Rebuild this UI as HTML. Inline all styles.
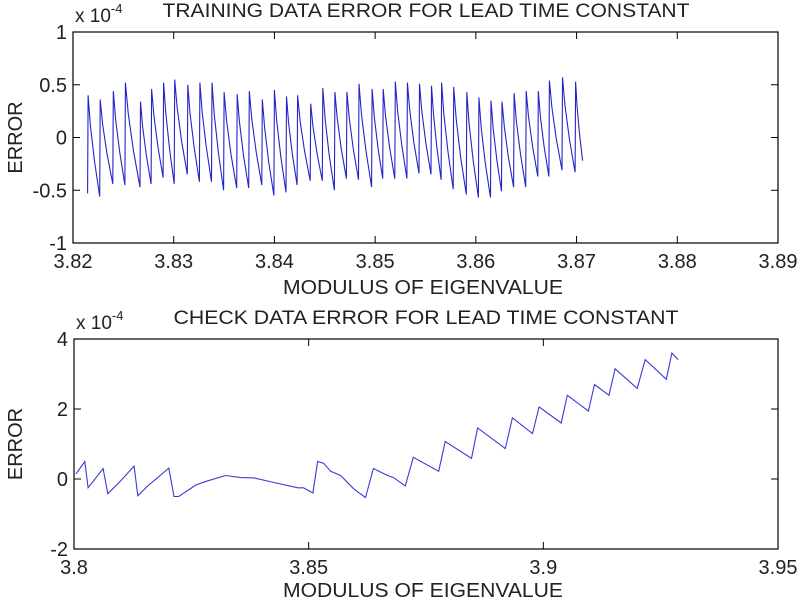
<!DOCTYPE html>
<html><head><meta charset="utf-8"><style>
html,body{margin:0;padding:0;background:#fff;}
svg{display:block;font-family:"Liberation Sans",Arial,sans-serif;}
</style></head><body>
<svg id="chart" width="800" height="600" viewBox="0 0 800 600" xmlns="http://www.w3.org/2000/svg">
<rect width="800" height="600" fill="#fff"/>
<g id="top"></g>
<g id="bot"></g>
</svg>
<script>
// Top chart data (units of 1e-4)
const topPeakX = [3.8215,3.8227,3.8240,3.8252,3.8267,3.8278,3.8290,3.8301,3.8314,3.8326,3.8338,3.8350,3.8363,3.8375,3.8388,3.8400,3.8412,3.8423,3.8436,3.8448,3.8460,3.8472,3.8484,3.8497,3.8508,3.8520,3.8532,3.8544,3.8556,3.8566,3.8578,3.8591,3.8603,3.8615,3.8626,3.8638,3.8650,3.8662,3.8673,3.8686,3.8699];
const topPeakY = [0.40,0.36,0.44,0.52,0.34,0.46,0.52,0.55,0.50,0.52,0.52,0.43,0.41,0.44,0.36,0.45,0.39,0.40,0.32,0.47,0.43,0.43,0.51,0.46,0.46,0.53,0.52,0.51,0.49,0.52,0.48,0.43,0.38,0.35,0.34,0.42,0.44,0.44,0.54,0.57,0.53];
const topTroughY = [-0.53,-0.56,-0.44,-0.45,-0.47,-0.44,-0.38,-0.44,-0.35,-0.42,-0.42,-0.50,-0.48,-0.48,-0.45,-0.55,-0.52,-0.45,-0.41,-0.41,-0.50,-0.39,-0.40,-0.47,-0.39,-0.39,-0.39,-0.34,-0.35,-0.40,-0.49,-0.54,-0.57,-0.57,-0.51,-0.47,-0.47,-0.37,-0.37,-0.31,-0.33];
const topEndX = 3.8706, topEndY = -0.22;
const topXTicks = [3.82,3.83,3.84,3.85,3.86,3.87,3.88,3.89];
const topYTicks = [-1,-0.5,0,0.5,1];
// Bottom chart data
const botX = [3.8004,3.8023,3.8030,3.8062,3.8072,3.8096,3.8128,3.8136,3.8157,3.8179,3.8202,3.8213,3.8223,3.8260,3.8285,3.8323,3.8355,3.8383,3.8426,3.8477,3.8489,3.8509,3.8519,3.8532,3.8547,3.8568,3.8596,3.8621,3.8638,3.8668,3.8681,3.8706,3.8723,3.8777,3.8791,3.8847,3.8860,3.8919,3.8934,3.8977,3.8991,3.9038,3.9051,3.9096,3.9109,3.9140,3.9153,3.9200,3.9217,3.9262,3.9274,3.9287];
const botY = [0.14,0.5,-0.25,0.3,-0.42,-0.1,0.37,-0.48,-0.2,0.05,0.31,-0.5,-0.5,-0.17,-0.05,0.1,0.04,0.03,-0.1,-0.25,-0.25,-0.4,0.5,0.45,0.22,0.1,-0.28,-0.53,0.3,0.1,0.04,-0.2,0.62,0.22,1.07,0.59,1.46,0.87,1.75,1.3,2.06,1.6,2.39,1.94,2.7,2.39,3.15,2.59,3.41,2.85,3.6,3.41];
const botXTicks = [3.8,3.85,3.9,3.95];
const botXLabels = ["3.8","3.85","3.9","3.95"];
const botYTicks = [-2,0,2,4];

const NS="http://www.w3.org/2000/svg";
function mk(parent,tag,attrs){const e=document.createElementNS(NS,tag);for(const k in attrs)e.setAttribute(k,attrs[k]);parent.appendChild(e);return e;}

function axes(g,box,xmin,xmax,ymin,ymax,xt,xl,yt,title,titleLen,xtitleY,prefix){
  const L=box[0],T=box[1],R=box[2],B=box[3];
  const sx=v=>L+(v-xmin)/(xmax-xmin)*(R-L);
  const sy=v=>B-(v-ymin)/(ymax-ymin)*(B-T);
  const fr=mk(g,'rect',{x:L,y:T,width:R-L,height:B-T,fill:'none',stroke:'#000','stroke-width':1.2});
  
  
  xt.forEach((v,i)=>{
    const x=sx(v);
    const t1=mk(g,'line',{x1:x,y1:B,x2:x,y2:B-7,stroke:'#000'});
    
    
    mk(g,'line',{x1:x,y1:T,x2:x,y2:T+7,stroke:'#000'});
    const tx=mk(g,'text',{x:x,y:B+25,'text-anchor':'middle','font-size':20,fill:'#222'});
    tx.textContent=xl[i];
    
    
  });
  yt.forEach(v=>{
    const y=sy(v);
    const t1=mk(g,'line',{x1:L,y1:y,x2:L+7,y2:y,stroke:'#000'});
    
    
    mk(g,'line',{x1:R,y1:y,x2:R-7,y2:y,stroke:'#000'});
    const tx=mk(g,'text',{x:L-6,y:y+7,'text-anchor':'end','font-size':20,fill:'#222'});
    tx.textContent=String(v);
    
    
  });
  const ti=mk(g,'text',{x:426,y:T-15,'text-anchor':'middle','font-size':19,fill:'#222',textLength:titleLen,lengthAdjust:'spacingAndGlyphs'});
  ti.textContent=title;
  
  
  const xa=mk(g,'text',{x:423,y:xtitleY,'text-anchor':'middle','font-size':20,fill:'#222',textLength:280,lengthAdjust:'spacingAndGlyphs'});
  xa.textContent='MODULUS OF EIGENVALUE';
  
  
  const ya=mk(g,'text',{x:0,y:0,'text-anchor':'middle','font-size':20,fill:'#222',transform:'translate(22,'+((T+B)/2)+') rotate(-90)'});
  ya.textContent='ERROR';
  
  
  const ex=mk(g,'text',{x:L+2,y:T-10,'font-size':19,fill:'#222'});
  
  
  ex.textContent='x 10';
  const sup=mk(g,'tspan',{dy:-9,'font-size':13});sup.textContent='-4';
  ex.appendChild(sup);
  return {sx,sy};
}

// Top
const gt=document.getElementById('top');
const A=axes(gt,[73,32,778,243],3.82,3.89,-1,1,topXTicks,topXTicks.map(v=>v.toFixed(2)),topYTicks,'TRAINING DATA ERROR FOR LEAD TIME CONSTANT',527,294,'top');
let pts=[];
for(let i=0;i<topPeakX.length;i++){
  const xp=topPeakX[i];
  pts.push([xp-0.00005,topTroughY[i]]);
  pts.push([xp,topPeakY[i]]);
  const nx=i+1<topPeakX.length?topPeakX[i+1]-0.00005:topEndX;
  const ny=i+1<topPeakX.length?topTroughY[i+1]:topEndY;
  const p=topPeakY[i];
  const d=nx-xp;
  pts.push([xp+d*0.2,p+(ny-p)*0.3]);
  pts.push([xp+d*0.55,p+(ny-p)*0.65]);
  if(i+1>=topPeakX.length) pts.push([nx,ny]);
}
const tl=mk(gt,'polyline',{points:pts.map(q=>A.sx(q[0]).toFixed(1)+','+A.sy(q[1]).toFixed(1)).join(' '),fill:'none',stroke:'#2424c8','stroke-width':1.1});



// Bottom
const gb=document.getElementById('bot');
const B2=axes(gb,[74,339,778,549],3.8,3.95,-2,4,botXTicks,botXLabels,botYTicks,'CHECK DATA ERROR FOR LEAD TIME CONSTANT',505,597,'bottom');
const bl=mk(gb,'polyline',{points:botX.map((x,i)=>B2.sx(x).toFixed(1)+','+B2.sy(botY[i]).toFixed(1)).join(' '),fill:'none',stroke:'#3a3ad8','stroke-width':1.1});


</script>
</body></html>
